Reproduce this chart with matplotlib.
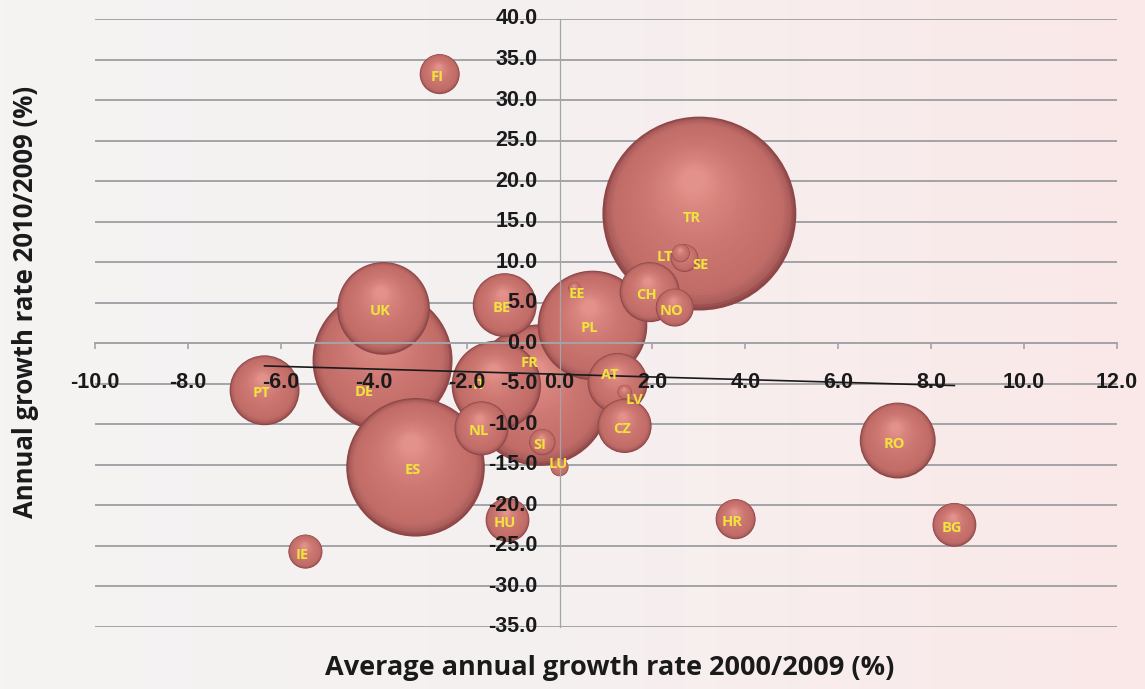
# Bubble chart: growth 2000/2009 vs 2010/2009 by country
import numpy as np
import matplotlib.pyplot as plt
from matplotlib.colors import LinearSegmentedColormap

countries = ['TR', 'DE', 'ES', 'FR', 'PL', 'UK', 'IT', 'RO', 'PT', 'BE', 'CH', 'AT', 'CZ',
             'NL', 'HU', 'BG', 'FI', 'HR', 'NO', 'IE', 'SI', 'SE', 'LT', 'LU', 'LV', 'EE']
growth_2000_2009 = [3.01, -3.81, -3.10, -0.43, 0.71, -3.79, -1.36, 7.28, -6.35, -1.18, 1.94, 1.25, 1.40,
                    -1.68, -1.12, 8.50, -2.58, 3.79, 2.48, -5.47, -0.37, 2.69, 2.61, 0.00, 1.40, 0.32]
growth_2010_2009 = [16.0, -2.1, -15.3, -6.4, 2.2, 4.3, -5.2, -12.0, -5.8, 4.7, 6.3, -4.9, -10.2,
                    -10.5, -21.8, -22.4, 33.2, -21.7, 4.4, -25.7, -12.2, 10.5, 11.1, -15.3, -6.0, 6.8]
bubble_size = [94, 49, 48, 50, 30, 21.5, 20, 14.4, 12.2, 10.2, 9.0, 9.0, 7.3,
               7.3, 4.8, 4.8, 4.0, 4.0, 3.6, 2.9, 1.7, 1.9, 0.8, 0.8, 0.5, 0.36]

# linear trend line (as drawn in the source)
trend_slope = -0.163
trend_intercept = -3.83

x_ticks = np.arange(-10, 12.1, 2)
y_ticks = np.arange(-35, 40.1, 5)

# label nudges in pixels (dx, dy up) where the source moved the label
label_nudge = {'DE': (-18, -32), 'FR': (-10, 32), 'IT': (-17, 0), 'LT': (-16, -4),
               'SE': (16, -7), 'AT': (-8, 8), 'LV': (10, -8), 'EE': (2, -6), 'LU': (-1, 3),
               'TR': (-8, -4)}

W, H, DPI = 1145, 689, 100
fig = plt.figure(figsize=(W / DPI, H / DPI), dpi=DPI)

# background gradient
bg = fig.add_axes([0, 0, 1, 1])
bg_cmap = LinearSegmentedColormap.from_list('bg', ['#f4f4f3', '#f6f0f0', '#fbe8e8'])
bg.imshow(np.linspace(0, 1, 256).reshape(1, -1), cmap=bg_cmap, aspect='auto', extent=[0, 1, 0, 1])
bg.axis('off')

ax = fig.add_axes([95 / W, 1 - 627 / H, (1117 - 95) / W, (627 - 19) / H])
ax.patch.set_alpha(0)
ax.set_xlim(-10, 12)
ax.set_ylim(-35, 40)
ax.set_axisbelow(True)

grey = '#a3a4a8'
for s in ['top', 'right']:
    ax.spines[s].set_visible(False)
ax.spines['bottom'].set_position(('data', 0))
ax.spines['left'].set_position(('data', 0))
ax.spines['bottom'].set_color(grey)
ax.spines['bottom'].set_linewidth(1.4)
ax.spines['left'].set_color(grey)
ax.spines['left'].set_linewidth(0.9)
ax.set_xticks(x_ticks)
ax.set_yticks(y_ticks)
ax.tick_params(axis='x', direction='out', length=4.5, width=1.2, color=grey, labelbottom=False)
ax.tick_params(axis='y', length=0, labelleft=False)
ax.grid(axis='y', color=grey, linewidth=1.4)

# 3D-looking bubbles: stacked circles shrinking toward a soft highlight
sphere = LinearSegmentedColormap.from_list('sphere', [(0.0, '#8e4646'), (0.05, '#ab5e5c'),
                                                       (0.14, '#c26c68'), (0.55, '#cd7773'),
                                                       (0.85, '#d9867f'), (1.0, '#e3928b')])
px_to_pt = 72 / DPI
n_layers = 40
order = np.argsort(bubble_size)[::-1]
inv = ax.transData.inverted()
for rank, i in enumerate(order):
    r = 10 * np.sqrt(bubble_size[i])
    cx, cy = ax.transData.transform((growth_2000_2009[i], growth_2010_2009[i]))
    t = np.linspace(0, 1, n_layers)
    radii = r * (1 - 0.88 * t)
    dx = -0.06 * r * t
    dy = 0.34 * r * t
    pts = inv.transform(np.column_stack([cx + dx, cy + dy]))
    ax.scatter(pts[:, 0], pts[:, 1], s=(2 * radii * px_to_pt) ** 2, c=sphere(t),
               linewidths=0, zorder=2 + rank * 0.01, clip_on=False)

# trend line
tx = np.array([min(growth_2000_2009), max(growth_2000_2009)])
ax.plot(tx, trend_slope * tx + trend_intercept, color='#1a1a1a', linewidth=1.2, zorder=5)

# bubble labels
for i, c in enumerate(countries):
    ndx, ndy = label_nudge.get(c, (-3, -3))
    ax.annotate(c, (growth_2000_2009[i], growth_2010_2009[i]), xytext=(ndx, ndy),
                textcoords='offset pixels', ha='center', va='center', color='#f0e43c',
                fontsize=10.5, fontweight='bold', family=['Open Sans', 'DejaVu Sans'], zorder=6)

# tick labels drawn on top of the bubbles
tick_font = dict(fontsize=15.5, fontweight='bold', family=['Liberation Sans', 'DejaVu Sans'],
                 color='#1a1a1a', zorder=7)
for xv in x_ticks:
    ax.annotate('%.1f' % xv, (xv, 0), xytext=(0, -39), textcoords='offset pixels',
                ha='center', va='center', annotation_clip=False, **tick_font)
for yv in y_ticks:
    ax.annotate('%.1f' % yv, (0, yv), xytext=(-22, 0), textcoords='offset pixels',
                ha='right', va='center', annotation_clip=False, **tick_font)

title_font = dict(fontweight='bold', family=['Open Sans', 'DejaVu Sans'], color='#1a1a1a')
fig.text(610 / W, 1 - 668 / H, 'Average annual growth rate 2000/2009 (%)',
         ha='center', va='center', fontsize=19.5, **title_font)
fig.text(26 / W, 1 - 302 / H, 'Annual growth rate 2010/2009 (%)',
         ha='center', va='center', rotation=90, fontsize=18.5, **title_font)

fig.savefig('out.png', dpi=DPI)
